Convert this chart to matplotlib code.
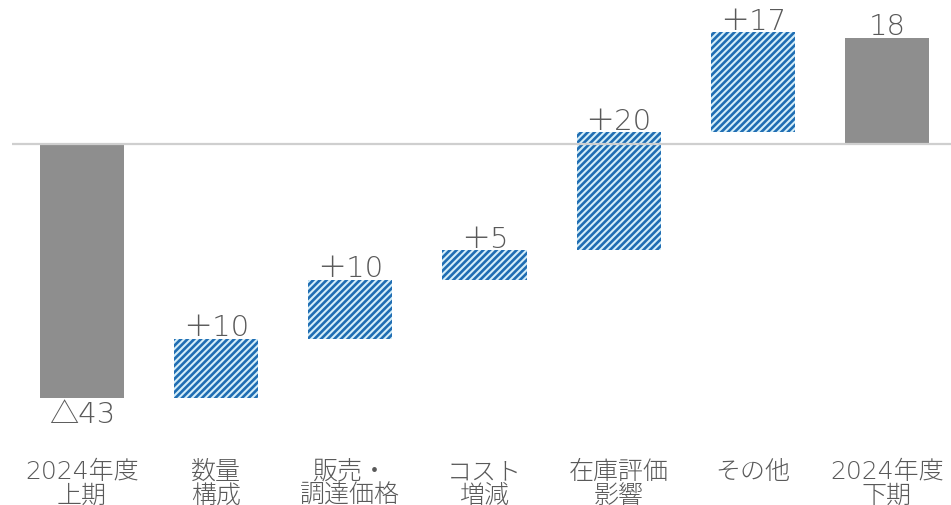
import matplotlib
matplotlib.use("Agg")
import matplotlib.pyplot as plt
import numpy as np

FONTS = ['DejaVu Sans', 'Noto Sans CJK JP']
plt.rcParams['font.family'] = FONTS
plt.rcParams['font.weight'] = 'light'
plt.rcParams['hatch.linewidth'] = 1.9

# Waterfall data (億円)
categories = ["2024年度\n上期", "数量\n構成", "販売・\n調達価格", "コスト\n増減",
              "在庫評価\n影響", "その他", "2024年度\n下期"]
start_value = -43
changes = [10, 10, 5, 20, 17]
end_value = 18
value_labels = ["△43", "＋10", "＋10", "＋5", "＋20", "＋17", "18"]

TOTAL_COLOR = '#8E8E8E'
STRIPE_COLOR = '#1F6DB3'
STRIPE_BG = '#D4EEF9'
TEXT_COLOR = '#595959'
VALUE_SIZE = 21
CAT_SIZE = 18

fig = plt.figure(figsize=(9.51, 5.06), dpi=100)
ax = fig.add_axes([12 / 951, 0, 1 - 12 / 951, 1])
ax.set_xlim(-0.522, 6.478)
ax.set_ylim(-61.2, 24.6)
ax.axis('off')

width = 0.627
x = np.arange(len(categories))


def label_above(xi, y, s):
    ax.annotate(s, (xi, y), xytext=(0, 2.5), textcoords='offset points',
                ha='center', va='baseline', fontsize=VALUE_SIZE, color=TEXT_COLOR)


# opening total
ax.bar(x[0], start_value, width=width, color=TOTAL_COLOR, zorder=2)
ax.annotate(value_labels[0], (x[0], start_value), xytext=(0, -2), textcoords='offset points',
            ha='center', va='top', fontsize=VALUE_SIZE, color=TEXT_COLOR)

# incremental steps
level = start_value
for i, ch in enumerate(changes, start=1):
    ax.bar(x[i], ch, bottom=level, width=width, facecolor=STRIPE_BG,
           edgecolor=STRIPE_COLOR, linewidth=0, hatch='/////', zorder=2)
    label_above(x[i], level + ch, value_labels[i])
    level += ch

# closing total
ax.bar(x[6], end_value, width=width, color=TOTAL_COLOR, zorder=2)
label_above(x[6], end_value, value_labels[6])

# zero line
ax.axhline(0, color='#CFCFCF', linewidth=1.6, zorder=3)

# category labels
trans = matplotlib.transforms.blended_transform_factory(ax.transData, fig.transFigure)
for xi, cat in zip(x, categories):
    ax.text(xi, 1 - 460 / 506, cat, ha='center', va='top', fontsize=CAT_SIZE,
            color=TEXT_COLOR, linespacing=0.98, transform=trans)

fig.savefig("out.png", dpi=100)
